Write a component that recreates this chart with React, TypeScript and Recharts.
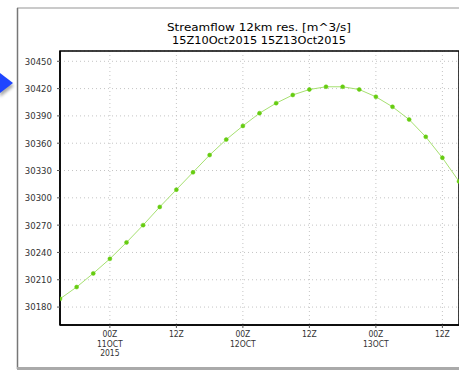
import React from 'react';
import {
  LineChart,
  Line,
  XAxis,
  YAxis,
  CartesianGrid,
  ReferenceArea,
} from 'recharts';

// Hours since 15Z 10 Oct 2015 (3-hourly)
const hours = [0, 3, 6, 9, 12, 15, 18, 21, 24, 27, 30, 33, 36, 39, 42, 45, 48, 51, 54, 57, 60, 63, 66, 69, 72];
// Streamflow [m^3/s]
const flow = [
  30189, 30202, 30217, 30233, 30251, 30270, 30290, 30309, 30328, 30347,
  30364, 30379, 30393, 30404, 30413, 30419, 30422, 30422, 30419, 30411,
  30400, 30386, 30367, 30344, 30318,
];
const yTicks = [30180, 30210, 30240, 30270, 30300, 30330, 30360, 30390, 30420, 30450];
const xTicks = [9, 21, 33, 45, 57, 69];
const xTickLabels = [['00Z', '11OCT', '2015'], ['12Z'], ['00Z', '12OCT'], ['12Z'], ['00Z', '13OCT'], ['12Z']];
const titleLines = ['Streamflow 12km res. [m^3/s]', '15Z10Oct2015 15Z13Oct2015'];

const data = hours.map((h, i) => ({ h, v: flow[i] }));

const Y_MIN = 30160.3;
const Y_MAX = 30461.3;

const labelFont = '"Liberation Sans Narrow", "DejaVu Sans Condensed", sans-serif';

const XTick = (props: any) => {
  const { x, y, payload } = props;
  const idx = xTicks.indexOf(payload.value);
  const lines = idx >= 0 ? xTickLabels[idx] : [];
  return (
    <g>
      {lines.map((t, i) => (
        <text
          key={i}
          x={x}
          y={y + 7 + i * 9.7}
          textAnchor="middle"
          fontFamily={labelFont}
          fontSize={8.5}
          fill="#333"
        >
          {t}
        </text>
      ))}
    </g>
  );
};

export default function App() {
  return (
    <div style={{ position: 'absolute', left: 0, top: 0, width: 459, height: 371, background: '#fff' }}>
      <svg width={459} height={371} style={{ position: 'absolute', left: 0, top: 0 }}>
        <defs>
          <filter id="sh" x="-50%" y="-50%" width="200%" height="200%">
            <feGaussianBlur stdDeviation="1.5" />
          </filter>
        </defs>
        <line x1={17} y1={8} x2={459} y2={8} stroke="#b8b8b8" strokeWidth={1.5} />
        <line x1={17.5} y1={8} x2={17.5} y2={369} stroke="#777" strokeWidth={1.5} />
        <line x1={17} y1={368.5} x2={459} y2={368.5} stroke="#aaa" strokeWidth={3} />
        <polygon points="0,76 14,86 0,97" fill="#888" filter="url(#sh)" opacity={0.7} />
        <polygon points="0,73 13,83 0,93" fill="#1f45ff" />
        <text
          x={259}
          y={30.5}
          textAnchor="middle"
          fontFamily='"DejaVu Sans", sans-serif'
          fontSize={11}
          fill="#000"
          textLength={184}
          lengthAdjust="spacingAndGlyphs"
        >
          {titleLines[0]}
        </text>
        <text
          x={259}
          y={43.5}
          textAnchor="middle"
          fontFamily='"DejaVu Sans", sans-serif'
          fontSize={11}
          fill="#000"
          textLength={174}
          lengthAdjust="spacingAndGlyphs"
        >
          {titleLines[1]}
        </text>
      </svg>
      <div style={{ position: 'absolute', left: 0, top: 0 }}>
        <LineChart width={459} height={371} data={data} margin={{ top: 51, right: 0, bottom: 16, left: 0 }}>
          <CartesianGrid stroke="#c4c4c4" strokeDasharray="1 3" />
          <XAxis
            dataKey="h"
            type="number"
            domain={[0, 72]}
            ticks={xTicks}
            height={30}
            axisLine={{ stroke: '#000', strokeWidth: 1.5 }}
            tickLine={{ stroke: '#555' }}
            tickSize={3}
            tickMargin={2}
            tick={<XTick />}
            interval={0}
            allowDataOverflow
          />
          <YAxis
            type="number"
            domain={[Y_MIN, Y_MAX]}
            ticks={yTicks}
            width={60}
            axisLine={{ stroke: '#000', strokeWidth: 1.5 }}
            tickLine={{ stroke: '#555' }}
            tickSize={3}
            tickMargin={5}
            tick={{ fontFamily: labelFont, fontSize: 9.5, fill: '#333' }}
            interval={0}
            allowDataOverflow
          />
          <ReferenceArea
            x1={0}
            x2={72}
            y1={Y_MIN}
            y2={Y_MAX}
            fill="none"
            stroke="#000"
            strokeWidth={1.5}
            ifOverflow="visible"
          />
          <Line
            type="linear"
            dataKey="v"
            stroke="#a6e070"
            strokeWidth={1}
            dot={{ r: 2, fill: '#66cc11', stroke: '#66cc11', strokeWidth: 0.5 }}
            isAnimationActive={false}
          />
        </LineChart>
      </div>
    </div>
  );
}
